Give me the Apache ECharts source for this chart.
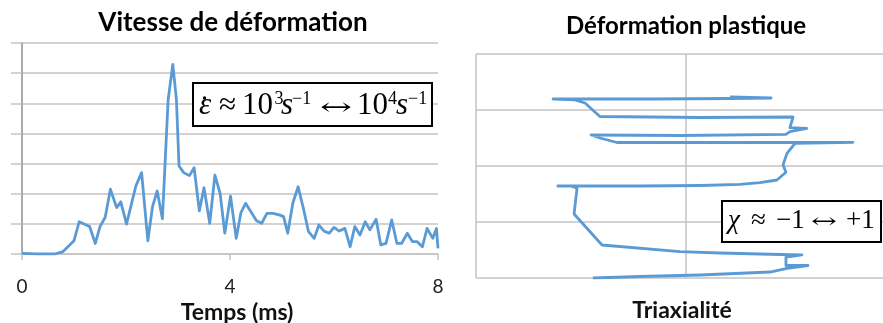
<!DOCTYPE html>
<html>
<head>
<meta charset="utf-8">
<script src="https://cdn.jsdelivr.net/npm/echarts@6/dist/echarts.min.js"></script>
<style>
  html, body { margin: 0; padding: 0; background: #fff; }
  #chart { width: 883px; height: 323px; }
</style>
</head>
<body>
<div id="chart"></div>
<script>
// Strain rate history (left panel): time in ms, rate in arbitrary grid units
const timeMs = [0, 0.3, 0.63, 0.79, 1.0, 1.1, 1.3, 1.41, 1.5, 1.6, 1.7, 1.82, 1.9, 2.01, 2.19, 2.3, 2.42, 2.51, 2.6, 2.7,
  2.81, 2.9, 2.97, 3.02, 3.11, 3.22, 3.31, 3.41, 3.5, 3.61, 3.71, 3.81, 3.9, 4.01, 4.12, 4.21, 4.3, 4.42, 4.51, 4.61,
  4.71, 4.83, 4.96, 5.03, 5.11, 5.21, 5.31, 5.41, 5.51, 5.62, 5.71, 5.81, 5.91, 6.0, 6.1, 6.21, 6.31, 6.4, 6.5, 6.6,
  6.69, 6.81, 6.9, 7.0, 7.11, 7.21, 7.3, 7.41, 7.51, 7.6, 7.7, 7.79, 7.9, 7.97, 8.0];
const strainRate = [0.02, 0, 0, 0.08, 0.44, 1.07, 0.91, 0.35, 0.91, 1.22, 2.15, 1.54, 1.73, 0.99, 2.26, 2.7, 0.44, 1.57, 2.09, 1.17,
  5.11, 6.29, 5.11, 2.92, 2.7, 2.6, 2.86, 1.43, 2.2, 1.02, 2.62, 2.01, 0.69, 1.92, 0.52, 1.37, 1.68, 1.35, 1.1, 1.02,
  1.35, 1.35, 1.29, 1.24, 0.69, 1.7, 2.23, 1.52, 0.74, 0.52, 0.96, 0.76, 0.69, 0.88, 0.76, 0.85, 0.24, 0.91, 0.63, 1.07,
  0.8, 1.15, 0.3, 0.35, 1.13, 0.35, 0.35, 0.69, 0.41, 0.41, 0.24, 0.85, 0.52, 0.85, 0.19];
const timeTicks = [0, 4, 8];

// Plastic strain path (right panel): triaxiality vs. strain level
const triaxiality = [-0.443, -0.219, 0.067, 0.400, 0.481, 0.581, 0.476, 0.476, 0.552, 0.352, 0.162, -0.029, -0.400, -0.533,
  -0.519, -0.548, -0.610, -0.219, 0.067, 0.257, 0.352, 0.433, 0.476, 0.462, 0.481, 0.519, 0.795, 0.352, -0.329, -0.410,
  -0.452, -0.029, 0.476, 0.495, 0.575, 0.495, 0.510, 0.067, -0.410, -0.481, -0.529, -0.633, -0.171, 0.210, 0.405, 0.210];
const plasticStrain = [0, 0.027, 0.054, 0.107, 0.170, 0.223, 0.223, 0.375, 0.411, 0.429, 0.446, 0.470, 0.589, 1.143,
  1.602, 1.643, 1.643, 1.643, 1.652, 1.673, 1.702, 1.750, 1.888, 2.018, 2.227, 2.405, 2.423, 2.420, 2.420, 2.500,
  2.554, 2.545, 2.563, 2.613, 2.673, 2.684, 2.875, 2.866, 2.884, 3.125, 3.179, 3.196, 3.196, 3.205, 3.214, 3.232];

const LINE = '#5b9bd5';
const GRID = '#c3c3c3';
const SANS = 'Lato, "Open Sans", sans-serif';
const SERIF = '"Liberation Serif", "DejaVu Serif", serif';
const ARROW_FONT = '"DejaVu Serif", "DejaVu Sans", serif';

// measure a string so the double arrow can be stretched to a given width
const measureCtx = document.createElement('canvas').getContext('2d');
function textWidth(str, font) {
  measureCtx.font = font;
  return measureCtx.measureText(str).width;
}

// one fragment of a formula, left-aligned at x and vertically centred at y
function piece(str, x, y, size, opts) {
  const o = opts || {};
  const family = o.family || SERIF;
  const font = (o.italic ? 'italic ' : '') + size + 'px ' + family;
  const el = {
    type: 'text', z: 101, x: x, y: y,
    style: { text: str, font: font, fill: '#000', align: 'left', verticalAlign: 'middle' }
  };
  if (o.width) el.scaleX = o.width / textWidth(str, font);
  return el;
}

const rateFormula = [
  piece('ε', 199, 106, 31, { italic: true }),
  { type: 'circle', z: 102, shape: { cx: 204.5, cy: 98, r: 1.7 }, style: { fill: '#000' } },
  piece('≈', 219, 106, 31),
  piece('10', 242, 106, 31),
  piece('3', 274.5, 99, 18),
  piece('s', 281, 106, 31, { italic: true }),
  piece('−1', 292, 99, 18),
  piece('↔', 320, 109, 24, { width: 32, family: ARROW_FONT }),
  piece('10', 357, 106, 31),
  piece('4', 388, 99, 18),
  piece('s', 396, 106, 31, { italic: true }),
  piece('−1', 408, 99, 18)
];

const triaxFormula = [
  piece('χ', 728, 221, 27, { italic: true }),
  piece('≈', 751, 221, 27),
  piece('−1', 776, 221, 27),
  piece('↔', 811, 223, 21, { width: 26, family: ARROW_FONT }),
  piece('+1', 846, 221, 27)
];

const chart = echarts.init(document.getElementById('chart'), null, { renderer: 'canvas' });

chart.setOption({
  backgroundColor: '#fff',
  animation: false,
  title: [
    { text: 'Vitesse de déformation', left: 228, top: 5, textAlign: 'center',
      textStyle: { fontFamily: SANS, fontWeight: 'bold', fontSize: 26, color: '#000' } },
    { text: 'Déformation plastique', left: 681, top: 9, textAlign: 'center',
      textStyle: { fontFamily: SANS, fontWeight: 'bold', fontSize: 24, color: '#000' } }
  ],
  grid: [
    { left: 22, right: 445, top: 43, bottom: 69, outerBoundsMode: 'none', containLabel: false },
    { left: 476, right: -13, top: 54, bottom: 45, outerBoundsMode: 'none', containLabel: false }
  ],
  xAxis: [
    {
      gridIndex: 0, type: 'value', min: 0, max: 8, interval: 4,
      name: 'Temps (ms)', nameLocation: 'middle', nameGap: 45,
      nameTextStyle: { fontFamily: SANS, fontWeight: 'bold', fontSize: 23, color: '#111', padding: [0, 0, 0, 14] },
      axisLine: { show: true, lineStyle: { color: GRID, width: 1.5 } },
      axisTick: { show: true, length: 6, lineStyle: { color: GRID, width: 1.5 } },
      axisLabel: { margin: 23, fontFamily: SANS, fontSize: 19, color: '#222',
        formatter: v => (timeTicks.indexOf(v) >= 0 ? String(v) : '') },
      splitLine: { show: false }
    },
    {
      gridIndex: 1, type: 'value', min: -1, max: 1, interval: 1,
      name: 'Triaxialité', nameLocation: 'middle', nameGap: 21,
      nameTextStyle: { fontFamily: SANS, fontWeight: 'bold', fontSize: 23, color: '#111', padding: [0, 8, 0, 0] },
      axisLine: { show: false }, axisTick: { show: false }, axisLabel: { show: false },
      splitLine: { show: true, lineStyle: { color: GRID, width: 1.5 } }
    }
  ],
  yAxis: [
    {
      gridIndex: 0, type: 'value', min: 0, max: 7, interval: 1,
      axisLine: { show: true, lineStyle: { color: '#8f8f8f', width: 1.5 } },
      axisTick: { show: true, length: 11, lineStyle: { color: GRID, width: 1.5 } },
      axisLabel: { show: false },
      splitLine: { show: true, lineStyle: { color: GRID, width: 1.5 } }
    },
    {
      gridIndex: 1, type: 'value', min: 0, max: 4, interval: 1,
      axisLine: { show: false }, axisTick: { show: false }, axisLabel: { show: false },
      splitLine: { show: true, lineStyle: { color: GRID, width: 1.5 } }
    }
  ],
  series: [
    {
      type: 'line', xAxisIndex: 0, yAxisIndex: 0, showSymbol: false, silent: true,
      lineStyle: { color: LINE, width: 2.8, join: 'round' },
      data: timeMs.map((t, i) => [t, strainRate[i]])
    },
    {
      type: 'line', xAxisIndex: 1, yAxisIndex: 1, showSymbol: false, silent: true,
      lineStyle: { color: LINE, width: 2.8, join: 'round' },
      data: triaxiality.map((x, i) => [x, plasticStrain[i]])
    }
  ],
  graphic: [
    {
      type: 'rect', z: 100,
      shape: { x: 193, y: 83, width: 239, height: 43 },
      style: { fill: '#fff', stroke: '#000', lineWidth: 2 }
    },
    ...rateFormula,
    {
      type: 'rect', z: 100,
      shape: { x: 722, y: 201, width: 159, height: 41 },
      style: { fill: '#fff', stroke: '#000', lineWidth: 2 }
    },
    ...triaxFormula
  ]
});
</script>
</body>
</html>
